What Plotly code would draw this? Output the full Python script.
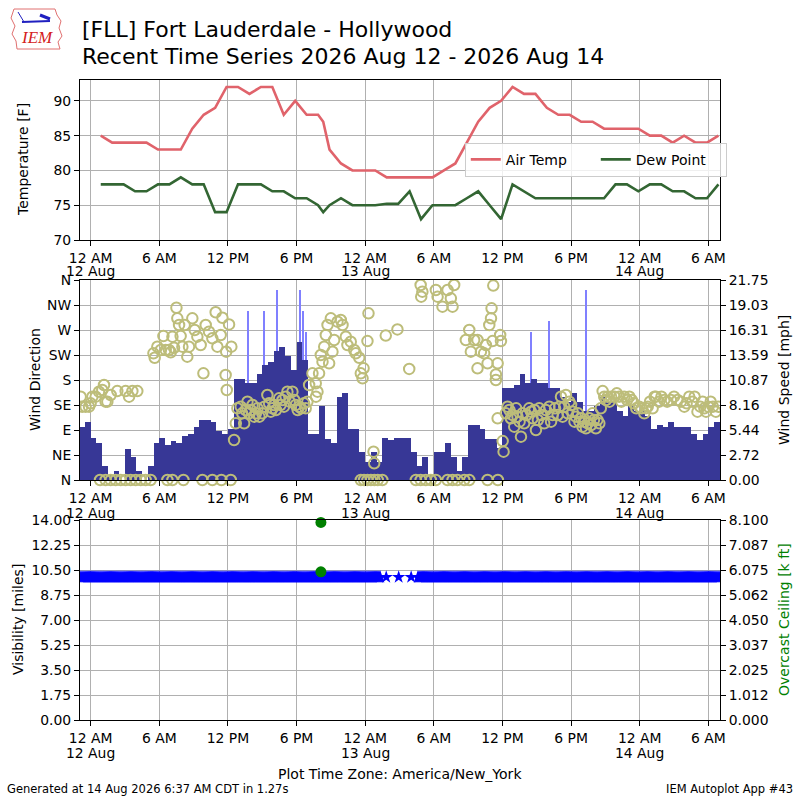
import numpy as np
import pandas as pd
import plotly.graph_objects as go

BASE = pd.Timestamp("2026-08-12 00:00")


def ts(hours):
    return [BASE + pd.Timedelta(hours=float(h)) for h in hours]


# ---------------- hourly observations (plus one special at 20:20) ----------------
obs_times = list(pd.date_range("2026-08-12 00:53", periods=55, freq="h"))
obs_times.insert(20, pd.Timestamp("2026-08-12 20:20"))

air_temp = [85, 84, 84, 84, 84, 83, 83, 83, 86, 88, 89, 92, 92, 91, 92, 92, 88, 90, 88, 88,
            87,
            83, 81, 80, 80, 80, 79, 79, 79, 79, 79, 80, 81, 84, 87, 89, 90, 92, 91, 91, 89,
            88, 88, 87, 87, 86, 86, 86, 86, 85, 85, 84, 85, 84, 84, 85]
dew_point = [78, 78, 78, 77, 77, 78, 78, 79, 78, 78, 74, 74, 78, 78, 78, 77, 77, 76, 76, 75,
             74,
             75, 76, 75, 75, 75, 75.2, 75.2, 77, 73, 75, 75, 75, 76, 77, 75, 73, 78, 77, 76, 76,
             76, 76, 76, 76, 76, 78, 78, 77, 78, 78, 77, 77, 76, 76, 78]

# ---------------- wind speed (30 minute bins starting 11 Aug 23:00) ----------------
speed_bin_start_hour = -1.0
speed_bin_hours = 0.5
wind_speed_mph = [
    5.8, 6.3, 4.6, 4.0, 1.5, 0.5, 1.0, 0.0, 3.4, 2.5, 1.0, 0.0, 1.5, 4.0, 4.6, 3.8,
    4.2, 4.0, 4.8, 5.0, 5.8, 6.5, 6.5, 6.3, 5.3, 5.0, 5.5, 11.0, 11.0, 10.5, 10.5, 11.5,
    12.5, 12.8, 14.0, 14.5, 13.5, 12.0, 15.0, 13.0, 5.0, 5.0, 8.0, 4.5, 4.0, 9.0, 9.5, 5.5,
    5.5, 3.0, 2.0, 3.0, 2.0, 4.6, 4.4, 4.6, 4.6, 4.6, 3.0, 1.5, 2.5, 0.5, 3.0, 3.0,
    4.0, 2.5, 1.0, 2.5, 6.0, 6.0, 5.5, 4.5, 4.5, 3.5, 10.0, 10.0, 10.3, 11.5, 10.5, 11.0,
    10.5, 10.5, 10.0, 10.0, 9.0, 8.5, 9.5, 8.5, 7.5, 7.5, 8.0, 9.0, 8.5, 8.5, 7.5, 7.0,
    8.0, 7.5, 7.5, 7.0, 5.5, 6.0, 5.8, 6.3, 5.8, 5.8, 5.8, 5.0, 4.3, 5.0, 5.8, 6.3]

gust_hours = [13.77, 15.17, 16.27, 18.28, 18.54, 18.87, 38.49, 40.09, 43.3]
gust_mph = [18.4, 18.4, 20.7, 20.7, 18.4, 16.1, 16.1, 17.3, 20.7]

# ---------------- wind direction ----------------
dir_hours = [
    -0.87, -0.73, -0.44, -0.14, 0.0, 0.15, 0.44, 0.73, 1.02, 1.17, 1.31, 1.46, 1.75, 2.33, 3.06, 3.36, 3.65, 4.08,
    5.49, 5.6, 5.83, 6.13, 6.36, 6.56, 6.85, 7.0, 7.15, 7.29, 7.5, 7.58, 7.73, 7.87, 8.02, 8.22, 8.45, 8.6,
    8.89, 9.1, 9.33, 9.62, 9.86, 10.06, 10.35, 10.64, 10.93, 11.08, 11.37, 11.52, 11.8, 11.9, 11.85, 12.1,
    12.3, 12.54, 12.69, 12.83,
    13.12, 13.42, 13.71, 14.0, 14.3, 14.59, 15.0, 15.45, 15.75, 16.04, 16.48, 16.77, 17.2, 17.64, 17.93,
    18.23, 18.66, 18.95, 19.1, 19.39, 19.68, 19.83, 19.7, 19.97, 20.12, 20.27, 20.42, 20.56, 20.71, 20.85,
    21.0, 21.14, 21.29, 21.58, 21.87, 22.02, 22.31, 22.45, 22.74, 23.04, 23.18, 23.48, 23.62, 23.77, 23.86,
    24.2, 24.29, 24.73, 24.79, 25.8, 26.82,
    13.25, 13.55, 13.85, 14.15, 14.45, 14.75, 15.2, 15.6, 15.9, 16.2, 16.6, 16.9, 17.05, 17.4, 17.8, 18.1,
    18.4, 18.8,
    27.85, 28.85, 28.9, 29.0, 30.18, 30.33, 30.76, 31.2, 31.49, 31.64, 31.78, 32.8, 33.1, 33.24, 33.53,
    33.82, 33.82, 34.12, 34.4, 34.55, 34.7, 34.85, 35.0, 35.05, 35.14, 35.2, 35.43, 35.43, 35.58, 35.58,
    35.8, 35.87, 36.02, 36.1, 36.45, 36.74, 37.03, 37.32, 37.62, 37.9, 38.34, 38.63, 38.93, 39.22, 39.65,
    40.1, 40.39, 40.83, 41.12,
    36.3, 36.6, 36.9, 37.2, 37.5, 37.75, 38.1, 38.5, 38.8, 39.1, 39.4, 39.8, 40.25, 40.6,
    40.97, 41.26, 41.55, 41.85, 42.14, 42.43, 42.73, 43.0, 43.3, 43.6, 43.88, 44.17, 44.47, 44.76, 45.05,
    45.35, 45.8, 46.2, 46.65, 47.1, 47.5, 47.96, 48.4, 48.7, 49.13, 49.42, 49.7, 50.15, 50.73, 51.3, 51.9,
    52.33, 52.8, 53.05, 53.5, 53.8, 54.2, 54.65,
    41.4, 41.7, 42.0, 42.3, 42.6, 42.9, 43.15, 43.45, 43.75, 44.0, 44.3, 44.6, 44.9, 45.2, 45.5, 46.0,
    46.4, 46.9, 47.3, 47.7, 48.15, 48.55, 48.9, 49.3, 49.9, 50.4, 51.0, 51.6, 52.1, 52.6, 53.3, 53.65,
    54.0, 54.4, 54.85]
dir_deg = [
    150, 132, 132, 132, 138, 150, 150, 159, 162, 171, 141, 141, 153, 160, 160, 150, 160, 160,
    228, 220, 240, 234, 259, 234, 234, 230, 258, 238, 310, 291, 279, 259, 240, 279, 222, 240,
    291, 270, 258, 243, 192, 279, 267, 255, 302, 240, 261, 292, 189, 162, 231, 280,
    240, 72, 102, 129,
    132, 102, 141, 126, 114, 129, 120, 153, 123, 135, 147, 144, 159, 159, 135,
    132, 138, 141, 171, 192, 174, 159, 150, 192, 225, 213, 240, 261, 279, 210,
    291, 231, 252, 285, 288, 279, 258, 243, 249, 234, 228, 220, 192, 183, 201,
    250, 300, 51, 30, 260, 271,
    120, 126, 120, 135, 120, 114, 132, 138, 129, 126, 135, 132, 150, 141, 144, 126,
    129, 129,
    200, 351, 330, 339, 342, 330, 312, 342, 327, 312, 351, 252, 270, 231, 252,
    252, 201, 231, 228, 243, 210, 279, 291, 309, 250, 350, 190, 180, 210, 111,
    261, 250, 70, 51, 132, 111, 96, 114, 78, 102, 129, 111, 90, 129, 102,
    132, 117, 117, 150,
    120, 126, 117, 129, 105, 120, 117, 123, 126, 108, 117, 126, 105, 129,
    132, 114, 153, 141, 123, 114, 105, 96, 93, 111, 120, 93, 102, 160, 144,
    141, 150, 150, 150, 150, 138, 132, 120, 132, 129, 150, 141, 144, 144, 144, 132,
    150, 150, 123, 141, 123, 141, 123,
    132, 120, 135, 105, 120, 111, 105, 102, 99, 108, 108, 129, 150, 150, 150, 156,
    141, 144, 144, 129, 129, 129, 141, 150, 150, 141, 150, 141, 138, 141, 132, 129,
    132, 132, 132]
calm_hours = [0.82, 1.31, 1.75, 2.19, 2.63, 3.06, 3.5, 3.94, 4.38, 4.81, 5.25, 6.71, 7.15, 8.11,
              9.77, 10.64, 11.43, 12.25, 23.62, 23.9, 24.2, 24.5, 24.8, 25.1, 25.5, 28.43, 28.85,
              29.3, 29.74, 30.18, 31.2, 31.64, 32.07, 32.66, 33.1, 34.7, 35.6]
calm_deg = 0

# ---------------- visibility / ceiling ----------------
vis_reported_miles = 10.0
vis_continuous_spans = [(-0.93, 25.4), (28.6, 55.02)]
vis_isolated_hours = [25.84, 26.93, 28.02]
ceiling_hours = [20.13, 20.13]
ceiling_kft = [8.0, 6.0]

# ---------------- ticks ----------------
x_tick_hours = [0, 6, 12, 18, 24, 30, 36, 42, 48, 54]
x_tick_text = ["12 AM", "6 AM", "12 PM", "6 PM", "12 AM", "6 AM", "12 PM", "6 PM", "12 AM", "6 AM"]
date_label_hours = [0, 24, 48]
date_label_text = ["12 Aug", "13 Aug", "14 Aug"]
dir_tick_text = ["N", "NE", "E", "SE", "S", "SW", "W", "NW", "N"]
speed_tick_text = ["0.00", "2.72", "5.44", "8.16", "10.87", "13.59", "16.31", "19.03", "21.75"]
vis_tick_text = ["0.00", "1.75", "3.50", "5.25", "7.00", "8.75", "10.50", "12.25", "14.00"]
ceil_tick_text = ["0.000", "1.012", "2.025", "3.037", "4.050", "5.062", "6.075", "7.087", "8.100"]
x_range_hours = [-0.93, 55.02]

FONT = "DejaVu Sans"
GRID = "#b0b0b0"

fig = go.Figure()

# temperature panel
fig.add_trace(go.Scatter(x=obs_times, y=air_temp, mode="lines", name="Air Temp",
                         line=dict(color="#e0636b", width=2.6), xaxis="x", yaxis="y"))
fig.add_trace(go.Scatter(x=obs_times, y=dew_point, mode="lines", name="Dew Point",
                         line=dict(color="#336633", width=2.6), xaxis="x", yaxis="y"))

# wind panel
speed_centers = [speed_bin_start_hour + speed_bin_hours * (i + 0.5) for i in range(len(wind_speed_mph))]
fig.add_trace(go.Bar(x=ts(gust_hours), y=gust_mph, width=0.09 * 3600e3,
                     marker=dict(color="#8080ff", line=dict(width=0)),
                     showlegend=False, xaxis="x2", yaxis="y2"))
fig.add_trace(go.Bar(x=ts(speed_centers), y=wind_speed_mph, width=speed_bin_hours * 3600e3,
                     marker=dict(color="#373796", line=dict(width=0)),
                     showlegend=False, xaxis="x2", yaxis="y2"))
fig.add_trace(go.Scatter(x=ts(dir_hours), y=dir_deg, mode="markers",
                         marker=dict(symbol="circle-open", size=10.5, color="#bdbd7a",
                                     line=dict(width=2, color="#bdbd7a")),
                         showlegend=False, xaxis="x2", yaxis="y4"))
fig.add_trace(go.Scatter(x=ts(calm_hours), y=[calm_deg] * len(calm_hours), mode="markers",
                         marker=dict(symbol="circle-open", size=10.5, color="#bdbd7a",
                                     line=dict(width=2, color="#bdbd7a")),
                         showlegend=False, xaxis="x2", yaxis="y4", cliponaxis=False))

# visibility panel
vis_hours = []
for a, b in vis_continuous_spans:
    vis_hours.extend(np.arange(a, b, 1 / 12.0).tolist())
vis_hours.extend(vis_isolated_hours)
fig.add_trace(go.Scatter(x=ts(vis_hours), y=[vis_reported_miles] * len(vis_hours), mode="markers",
                         marker=dict(symbol="star", size=10, color="#0000ff", line=dict(width=0)),
                         showlegend=False, xaxis="x3", yaxis="y3"))
fig.add_trace(go.Scatter(x=ts(ceiling_hours), y=ceiling_kft, mode="markers",
                         marker=dict(symbol="circle", size=11, color="#008000"),
                         showlegend=False, xaxis="x3", yaxis="y5", cliponaxis=False))

xr = ts(x_range_hours)
tickfont = dict(family=FONT, size=13.9, color="black")
xcommon = dict(domain=[0.1, 0.9], type="date", range=xr, tickmode="array",
               tickvals=ts(x_tick_hours), ticktext=x_tick_text, showgrid=True, gridcolor=GRID,
               gridwidth=1, ticks="outside", ticklen=5, tickcolor="black", showline=True,
               linecolor="black", linewidth=1, mirror=True, zeroline=False, tickfont=tickfont,
               automargin=False)
ycommon = dict(ticks="outside", ticklen=5, tickcolor="black", showline=True, linecolor="black",
               linewidth=1, zeroline=False, tickfont=tickfont, automargin=False)

fig.update_layout(
    width=800, height=800, margin=dict(l=0, r=0, t=0, b=0, pad=0, autoexpand=False),
    paper_bgcolor="white", plot_bgcolor="white",
    font=dict(family=FONT, size=14, color="black"),
    barmode="overlay", bargap=0,
    xaxis=dict(anchor="y", **xcommon),
    xaxis2=dict(anchor="y2", matches="x", **xcommon),
    xaxis3=dict(anchor="y3", matches="x", **xcommon),
    yaxis=dict(domain=[0.7, 0.9], range=[70, 93], tickvals=[70, 75, 80, 85, 90],
               showgrid=True, gridcolor=GRID, mirror=True, anchor="x", **ycommon),
    yaxis2=dict(domain=[0.4, 0.65], range=[0, 21.75], side="right", anchor="x2",
                tickvals=[21.75 * i / 8 for i in range(9)], ticktext=speed_tick_text,
                showgrid=True, gridcolor=GRID, mirror=True, **ycommon),
    yaxis4=dict(overlaying="y2", side="left", anchor="x2", range=[0, 360],
                tickvals=[45 * i for i in range(9)], ticktext=dir_tick_text,
                showgrid=False, **ycommon),
    yaxis3=dict(domain=[0.1, 0.35], range=[0, 14], anchor="x3",
                tickvals=[1.75 * i for i in range(9)], ticktext=vis_tick_text,
                showgrid=True, gridcolor=GRID, mirror=True, **ycommon),
    yaxis5=dict(overlaying="y3", side="right", anchor="x3", range=[0, 8.1],
                tickvals=[8.1 * i / 8 for i in range(9)], ticktext=ceil_tick_text,
                showgrid=False, **ycommon),
    legend=dict(orientation="h", x=0.581, y=0.8215, xanchor="left", yanchor="top",
                bgcolor="rgba(255,255,255,0.8)", bordercolor="#cccccc", borderwidth=1,
                font=dict(family=FONT, size=14), entrywidth=85, itemwidth=30),
)


def px(x, y):
    return x / 800.0, 1 - y / 800.0


annos = [
    dict(text="[FLL] Fort Lauderdale - Hollywood", x=px(80, 30)[0], y=px(80, 30)[1],
         xanchor="left", yanchor="middle", font=dict(size=22)),
    dict(text="Recent Time Series 2026 Aug 12 - 2026 Aug 14", x=px(80, 56)[0], y=px(80, 56)[1],
         xanchor="left", yanchor="middle", font=dict(size=22)),
    dict(text="Temperature [F]", x=px(23, 160)[0], y=px(23, 160)[1], textangle=-90,
         xanchor="center", yanchor="middle", font=dict(size=14)),
    dict(text="Wind Direction", x=px(35, 380)[0], y=px(35, 380)[1], textangle=-90,
         xanchor="center", yanchor="middle", font=dict(size=14)),
    dict(text="Wind Speed [mph]", x=px(784, 380)[0], y=px(784, 380)[1], textangle=-90,
         xanchor="center", yanchor="middle", font=dict(size=14)),
    dict(text="Visibility [miles]", x=px(18, 620)[0], y=px(18, 620)[1], textangle=-90,
         xanchor="center", yanchor="middle", font=dict(size=14)),
    dict(text="Overcast Ceiling [k ft]", x=px(784, 620)[0], y=px(784, 620)[1], textangle=-90,
         xanchor="center", yanchor="middle", font=dict(size=14, color="green")),
    dict(text="Plot Time Zone: America/New_York", x=px(400, 774)[0], y=px(400, 774)[1],
         xanchor="center", yanchor="middle", font=dict(size=14)),
    dict(text="Generated at 14 Aug 2026 6:37 AM CDT in 1.27s", x=px(5, 789)[0], y=px(5, 789)[1],
         xanchor="left", yanchor="middle", font=dict(size=11.5)),
    dict(text="IEM Autoplot App #43", x=px(795, 789)[0], y=px(795, 789)[1],
         xanchor="right", yanchor="middle", font=dict(size=11.5)),
    dict(text="<i>IEM</i>", x=px(37, 38)[0], y=px(37, 38)[1], xanchor="center", yanchor="middle",
         font=dict(family="Liberation Serif", size=17, color="#d42020")),
]
for a in annos:
    a.update(xref="paper", yref="paper")
# second-row date labels under the midnight ticks of each panel
for xref, ypix in (("x", 271), ("x2", 513), ("x3", 753)):
    for h, txt in zip(date_label_hours, date_label_text):
        annos.append(dict(text=txt, x=ts([h])[0], xref=xref, y=px(0, ypix)[1], yref="paper",
                          xanchor="center", yanchor="middle", font=dict(size=13.9)))
for a in annos:
    a.update(showarrow=False)
    a.setdefault("font", {})
    a["font"].setdefault("family", FONT)
    a["font"].setdefault("color", "black")
fig.update_layout(annotations=annos)

# IEM logo outline (decorative)
outline = [(14, 9), (55, 9), (57, 15), (61, 21), (59, 28), (62, 36), (58, 42), (60, 49),
           (17, 49), (16, 41), (12, 34), (15, 26), (11, 18)]
path = "M " + " L ".join(f"{px(x, y)[0]:.5f},{px(x, y)[1]:.5f}" for x, y in outline) + " Z"
shapes = [dict(type="path", path=path, xref="paper", yref="paper",
               line=dict(color="#e07070", width=1))]
shapes.append(dict(type="line", xref="paper", yref="paper", x0=px(22, 22)[0], y0=px(22, 22)[1],
                   x1=px(50, 21)[0], y1=px(50, 21)[1], line=dict(color="#2020c0", width=2)))
shapes.append(dict(type="line", xref="paper", yref="paper", x0=px(40, 15)[0], y0=px(40, 15)[1],
                   x1=px(50, 19)[0], y1=px(50, 19)[1], line=dict(color="#2020c0", width=3)))
shapes.append(dict(type="line", xref="paper", yref="paper", x0=px(18, 12)[0], y0=px(18, 12)[1],
                   x1=px(24, 22)[0], y1=px(24, 22)[1], line=dict(color="#2020c0", width=1)))
fig.update_layout(shapes=shapes)

fig.write_html(
    "out.html",
    config={"displayModeBar": False},
    post_script="document.body.style.margin='0';document.body.style.padding='0';"
                "document.body.style.overflow='hidden';",
)
